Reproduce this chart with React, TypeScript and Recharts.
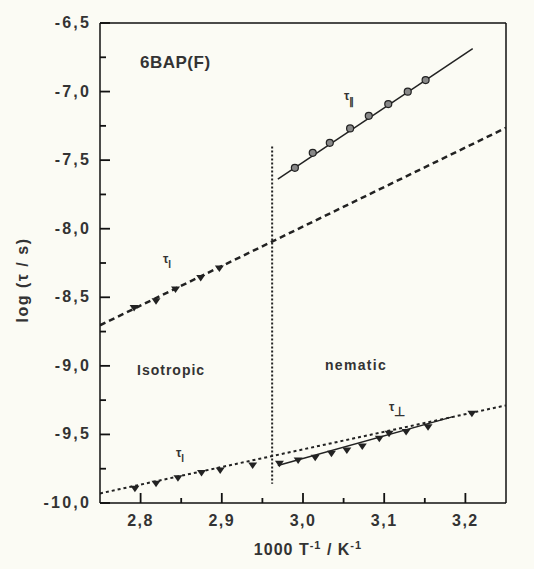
import React from 'react';
import { ComposedChart, Line, Scatter, XAxis, YAxis, ReferenceLine } from 'recharts';

// tau parallel (nematic), circles
const parX = [2.99, 3.012, 3.033, 3.058, 3.081, 3.105, 3.129, 3.151];
const parY = [-7.556, -7.447, -7.374, -7.269, -7.177, -7.091, -7.001, -6.916];
const parFitX = [2.969, 3.209];
const parFitY = [-7.639, -6.686];

// tau_l isotropic, upper branch
const isoUpX = [2.792, 2.819, 2.843, 2.874, 2.897];
const isoUpY = [-8.578, -8.529, -8.444, -8.359, -8.29];
const isoUpFitX = [2.75, 3.25];
const isoUpFitY = [-8.704, -7.264];

// tau_l isotropic, lower branch
const isoLowX = [2.793, 2.819, 2.846, 2.875, 2.898, 2.938];
const isoLowY = [-9.896, -9.86, -9.819, -9.782, -9.763, -9.726];
const isoLowFitX = [2.75, 3.25];
const isoLowFitY = [-9.93, -9.288];

// tau perpendicular (nematic)
const perpX = [2.971, 2.994, 3.015, 3.035, 3.054, 3.073, 3.094, 3.106, 3.127, 3.154, 3.208];
const perpY = [-9.714, -9.69, -9.67, -9.641, -9.617, -9.588, -9.532, -9.495, -9.483, -9.447, -9.349];
const perpFitX = [2.969, 3.185];
const perpFitY = [-9.726, -9.37];

// phase transition
const transX = [2.962, 2.962];
const transY = [-7.4, -9.86];

const xTicks = [2.8, 2.9, 3.0, 3.1, 3.2];
const xMinor = [2.85, 2.95, 3.05, 3.15];
const yTicks = [-10, -9.5, -9, -8.5, -8, -7.5, -7, -6.5];
const yMinor = [-9.75, -9.25, -8.75, -8.25, -7.75, -7.25, -6.75];

const X_MIN = 2.75, X_MAX = 3.25, Y_MIN = -10, Y_MAX = -6.5;
// tick length in data units (plot is ~406 x 480 px)
const xPx = (X_MAX - X_MIN) / 406;
const yPx = (Y_MAX - Y_MIN) / 480;

const pts = (xs: number[], ys: number[]) => xs.map((x, i) => ({ x, y: ys[i] }));

const fmt = (v: number) => v.toFixed(1).replace('.', ',');
const textStyle = { fontFamily: '"Liberation Sans", Arial, sans-serif', fill: '#333', fontWeight: 'bold' as const };

const XTick = (props: any) => {
  const { x, y, payload } = props;
  return (
    <text x={x} y={y + 23} textAnchor="middle" fontSize={16} letterSpacing={1.5} style={textStyle}>
      {fmt(payload.value)}
    </text>
  );
};

const YTick = (props: any) => {
  const { x, y, payload } = props;
  return (
    <text x={x - 9} y={y + 5} textAnchor="end" fontSize={16} letterSpacing={2.2} style={textStyle}>
      {fmt(payload.value)}
    </text>
  );
};

const Circle = (props: any) => {
  const { cx, cy } = props;
  return <circle cx={cx} cy={cy} r={3.5} fill="#888" stroke="#222" strokeWidth={1.2} />;
};

const TriDown = (props: any) => {
  const { cx, cy } = props;
  return <path d={`M${cx - 4.5},${cy - 3} L${cx + 4.5},${cy - 3} L${cx},${cy + 3.5} Z`} fill="#222" />;
};

const App = () => {
  return (
    <div style={{ position: 'absolute', left: 0, top: 0, width: 534, height: 569, background: '#fbfbf4' }}>
      <ComposedChart width={534} height={569} margin={{ top: 23, right: 28, bottom: 0, left: 0 }}>
        <XAxis
          type="number"
          dataKey="x"
          domain={[X_MIN, X_MAX]}
          ticks={xTicks}
          allowDataOverflow
          height={66}
          tickSize={0}
          tickMargin={0}
          tickLine={false}
          tick={<XTick />}
          stroke="#111"
          strokeWidth={1.5}
        />
        <YAxis
          type="number"
          dataKey="y"
          domain={[Y_MIN, Y_MAX]}
          ticks={yTicks}
          allowDataOverflow
          width={100}
          tickSize={0}
          tickMargin={0}
          tickLine={false}
          tick={<YTick />}
          stroke="#111"
          strokeWidth={1.5}
        />
        <ReferenceLine y={Y_MAX} stroke="#111" strokeWidth={1.5} />
        <ReferenceLine x={X_MAX} stroke="#111" strokeWidth={1.5} />

        {xTicks.map((v) => (
          <ReferenceLine key={`xt${v}`} segment={[{ x: v, y: Y_MIN }, { x: v, y: Y_MIN + 10 * yPx }]} stroke="#111" strokeWidth={1.8} />
        ))}
        {xMinor.map((v) => (
          <ReferenceLine key={`xm${v}`} segment={[{ x: v, y: Y_MIN }, { x: v, y: Y_MIN + 5 * yPx }]} stroke="#111" strokeWidth={1.8} />
        ))}
        {yTicks.map((v) => (
          <ReferenceLine key={`yt${v}`} segment={[{ x: X_MIN, y: v }, { x: X_MIN + 10 * xPx, y: v }]} stroke="#111" strokeWidth={1.8} />
        ))}
        {yMinor.map((v) => (
          <ReferenceLine key={`ym${v}`} segment={[{ x: X_MIN, y: v }, { x: X_MIN + 6 * xPx, y: v }]} stroke="#111" strokeWidth={1.8} />
        ))}

        <Line data={pts(transX, transY)} dataKey="y" stroke="#222" strokeWidth={2} strokeDasharray="2 2" dot={false} isAnimationActive={false} />
        <Line data={pts(isoUpFitX, isoUpFitY)} dataKey="y" stroke="#222" strokeWidth={2.5} strokeDasharray="6 4" dot={false} isAnimationActive={false} />
        <Line data={pts(isoLowFitX, isoLowFitY)} dataKey="y" stroke="#222" strokeWidth={2} strokeDasharray="3 3" dot={false} isAnimationActive={false} />
        <Line data={pts(parFitX, parFitY)} dataKey="y" stroke="#222" strokeWidth={1.5} dot={false} isAnimationActive={false} />
        <Line data={pts(perpFitX, perpFitY)} dataKey="y" stroke="#222" strokeWidth={1.5} dot={false} isAnimationActive={false} />

        <Scatter data={pts(parX, parY)} shape={<Circle />} isAnimationActive={false} />
        <Scatter data={pts(isoUpX, isoUpY)} shape={<TriDown />} isAnimationActive={false} />
        <Scatter data={pts(isoLowX, isoLowY)} shape={<TriDown />} isAnimationActive={false} />
        <Scatter data={pts(perpX, perpY)} shape={<TriDown />} isAnimationActive={false} />
      </ComposedChart>

      <svg width={534} height={569} style={{ position: 'absolute', left: 0, top: 0, pointerEvents: 'none' }}>
        <text x={140} y={68} fontSize={17} letterSpacing={0.5} style={textStyle}>6BAP(F)</text>
        <text x={137} y={375} fontSize={14} letterSpacing={1} style={textStyle}>Isotropic</text>
        <text x={325} y={370} fontSize={14} letterSpacing={1.3} style={textStyle}>nematic</text>

        <text x={344} y={100} fontSize={12} style={textStyle}>
          τ<tspan dy={5} fontSize={10}>∥</tspan>
        </text>
        <text x={163} y={263} fontSize={12} style={textStyle}>
          τ<tspan dy={5} fontSize={10}>l</tspan>
        </text>
        <text x={176} y={457} fontSize={12} style={textStyle}>
          τ<tspan dy={5} fontSize={10}>l</tspan>
        </text>
        <text x={389} y={411} fontSize={12} style={textStyle}>
          τ<tspan dy={5} fontSize={13}>⊥</tspan>
        </text>

        <text x={28} y={280} transform="rotate(-90 28 280)" textAnchor="middle" fontSize={16} letterSpacing={1.5} style={textStyle}>
          log (τ / s)
        </text>
        <text x={308} y={555} textAnchor="middle" fontSize={16} letterSpacing={1} style={textStyle}>
          1000 T<tspan dy={-6} fontSize={11}>-1</tspan><tspan dy={6}> / K</tspan><tspan dy={-6} fontSize={11}>-1</tspan>
        </text>
      </svg>
    </div>
  );
};

export default App;
